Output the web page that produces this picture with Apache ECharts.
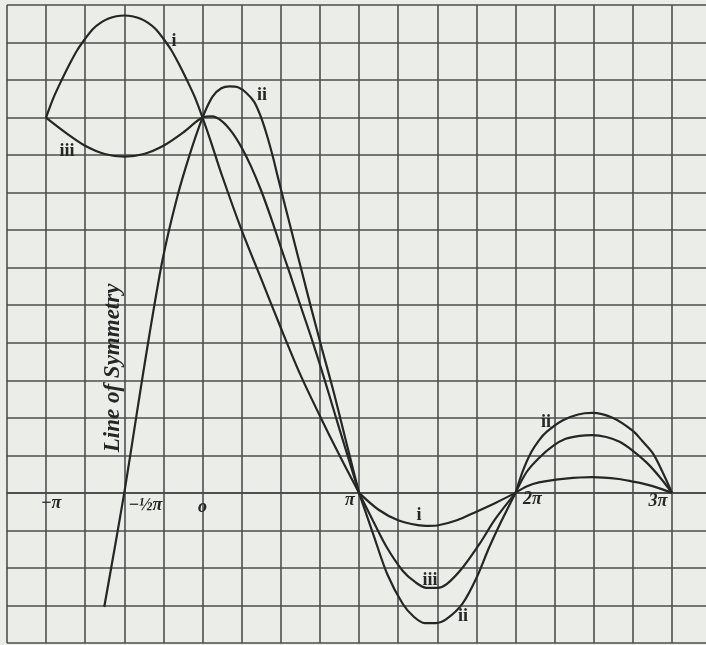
<!DOCTYPE html>
<html>
<head>
<meta charset="utf-8">
<script src="https://cdn.jsdelivr.net/npm/echarts@6.0.0/dist/echarts.min.js"></script>
<style>
  html, body { margin: 0; padding: 0; background: #ebeee8; }
  #chart { width: 706px; height: 645px; }
</style>
</head>
<body>
<div id="chart"></div>
<script>
// x in units of pi, y in grid units
const iSeg1 = [[-1,10],[-0.95,10.55],[-0.9,11.0],[-0.85,11.42],[-0.8,11.8],[-0.75,12.1],[-0.7,12.36],[-0.65,12.53],[-0.6,12.64],[-0.55,12.7],[-0.5,12.72],[-0.45,12.7],[-0.4,12.64],[-0.35,12.53],[-0.3,12.36],[-0.25,12.1],[-0.2,11.8],[-0.15,11.42],[-0.1,11.0],[-0.05,10.55],[0,10],[0.05,9.4],[0.125,8.45],[0.25,7.0],[0.375,5.7],[0.5,4.4],[0.625,3.15],[0.75,2.05],[0.875,1.0],[1,0]];
const iSeg2 = [[1,0],[1.125,-0.45],[1.25,-0.73],[1.375,-0.86],[1.45,-0.88],[1.5,-0.87],[1.625,-0.73],[1.75,-0.5],[1.875,-0.26],[2,0]];
const iSeg3 = [[2,0],[2.07,0.17],[2.15,0.28],[2.32,0.38],[2.49,0.42],[2.66,0.37],[2.75,0.3],[2.84,0.22],[2.92,0.12],[3,0]];

const iiSeg1 = [[-0.628,-3.04],[-0.5,0],[-0.417,2.2],[-0.34,4.2],[-0.256,6.2],[-0.167,7.8],[-0.083,9.0],[0,10],[0.064,10.56],[0.12,10.78],[0.173,10.83],[0.23,10.8],[0.282,10.65],[0.33,10.42],[0.37,10.05],[0.41,9.55],[0.45,8.95],[0.481,8.42],[0.558,7.15],[0.635,5.89],[0.699,4.85],[0.763,3.84],[0.833,2.77],[0.891,1.81],[0.942,0.96],[1,0]];
const iiSeg2 = [[1,0],[1.09,-1.09],[1.18,-2.16],[1.28,-2.96],[1.35,-3.3],[1.42,-3.47],[1.49,-3.47],[1.56,-3.36],[1.66,-2.96],[1.75,-2.27],[1.83,-1.47],[1.91,-0.75],[2,0]];
const iiSeg3 = [[2,0],[2.05,0.62],[2.1,1.08],[2.15,1.4],[2.2,1.63],[2.3,1.93],[2.4,2.09],[2.49,2.13],[2.62,2.0],[2.75,1.65],[2.81,1.38],[2.88,1.04],[2.94,0.55],[3,0]];

const iiiSeg1 = [[-1,10],[-0.875,9.6],[-0.75,9.25],[-0.625,9.03],[-0.5,8.96],[-0.375,9.03],[-0.25,9.25],[-0.125,9.6],[0,10],[0.06,10.03],[0.125,9.9],[0.19,9.6],[0.25,9.2],[0.31,8.7],[0.375,8.05],[0.44,7.3],[0.5,6.55],[0.56,5.82],[0.625,5.0],[0.69,4.2],[0.75,3.42],[0.81,2.6],[0.875,1.7],[0.94,0.82],[1,0]];
const iiiSeg2 = [[1,0],[1.09,-0.75],[1.18,-1.47],[1.28,-2.08],[1.36,-2.38],[1.43,-2.53],[1.5,-2.53],[1.56,-2.43],[1.66,-2.0],[1.77,-1.36],[1.87,-0.7],[2,0]];
const iiiSeg3 = [[2,0],[2.07,0.55],[2.15,0.93],[2.24,1.25],[2.32,1.44],[2.41,1.52],[2.49,1.54],[2.58,1.49],[2.665,1.36],[2.75,1.12],[2.84,0.8],[2.92,0.43],[3,0]];

const xTickValues = [-1, -0.5, 0, 1, 2, 3];
const xTickTexts = ['\u2212\u03C0', '\u2212\u00BD\u03C0', 'o', '\u03C0', '2\u03C0', '3\u03C0'];

const curveLabelTexts = ['i', 'ii', 'iii', 'i', 'iii', 'ii', 'ii'];
const curveLabelAt = [[-0.182,12.04],[0.38,10.58],[-0.866,9.09],[1.383,-0.61],[1.454,-2.32],[1.665,-3.30],[2.195,1.89]];

const symmetryText = 'Line of Symmetry';
const symmetryAt = [-0.572, 3.33];

// styling (pixel offsets for tick labels)
const tickOffsets = [[5,10],[21,12],[0,14],[-9,7],[17,6],[-14,8]];

const INK = '#262626';
const GRIDC = '#4e4e4e';

const curveSegs = [iSeg1, iSeg2, iSeg3, iiSeg1, iiSeg2, iiSeg3, iiiSeg1, iiiSeg2, iiiSeg3];

const series = curveSegs.map(seg => ({
  type: 'line',
  data: seg,
  showSymbol: false,
  smooth: 0.3,
  silent: true,
  lineStyle: { color: INK, width: 2.2 },
  z: 5
}));

const labelBase = {
  show: true,
  position: 'inside',
  formatter: p => p.name,
  fontFamily: 'Liberation Serif',
  color: INK,
  opacity: 1
};

series.push({
  type: 'scatter',
  symbolSize: 0,
  silent: true,
  itemStyle: { opacity: 1 },
  data: xTickValues.map((v, k) => ({
    value: [v, 0],
    name: xTickTexts[k],
    label: { offset: tickOffsets[k] }
  })),
  label: Object.assign({}, labelBase, { fontStyle: 'italic', fontWeight: 'bold', fontSize: 18 }),
  z: 6
});

series.push({
  type: 'scatter',
  symbolSize: 0,
  silent: true,
  itemStyle: { opacity: 1 },
  data: curveLabelAt.map((p, k) => ({ value: p, name: curveLabelTexts[k] })),
  label: Object.assign({}, labelBase, { fontWeight: 'bold', fontSize: 18 }),
  z: 6
});

series.push({
  type: 'scatter',
  symbolSize: 0,
  silent: true,
  itemStyle: { opacity: 1 },
  data: [{ value: symmetryAt, name: symmetryText }],
  label: Object.assign({}, labelBase, { rotate: 90, fontStyle: 'italic', fontWeight: 'bold', fontSize: 23 }),
  z: 6
});

const chart = echarts.init(document.getElementById('chart'), null, { renderer: 'canvas' });
chart.setOption({
  backgroundColor: '#ebeee8',
  animation: false,
  grid: { left: 6.9, top: 5, width: 704.25, height: 638, containLabel: false, outerBoundsMode: 'none' },
  xAxis: {
    type: 'value',
    min: -1.25,
    max: 3.25,
    interval: 0.25,
    axisLine: { show: true, onZero: true, lineStyle: { color: GRIDC, width: 1.8 } },
    axisTick: { show: false },
    axisLabel: { show: false },
    splitLine: { show: true, showMaxLine: false, lineStyle: { color: GRIDC, width: 1.6 } }
  },
  yAxis: {
    type: 'value',
    min: -4,
    max: 13,
    interval: 1,
    axisLine: { show: false },
    axisTick: { show: false },
    axisLabel: { show: false },
    splitLine: { show: true, lineStyle: { color: GRIDC, width: 1.6 } }
  },
  series: series
});
</script>
</body>
</html>
